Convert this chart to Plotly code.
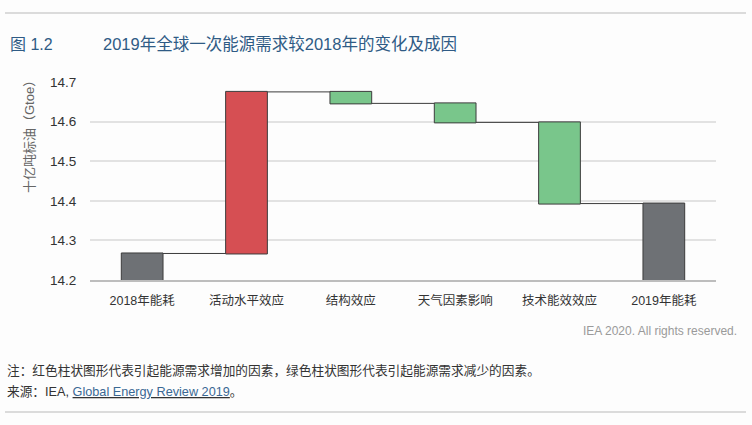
import plotly.graph_objects as go

# data
categories = ["2018年能耗", "活动水平效应", "结构效应", "天气因素影响", "技术能效效应", "2019年能耗"]
measures = ["absolute", "relative", "relative", "relative", "relative", "total"]
values = [14.267, 0.408, -0.029, -0.048, -0.205, 0]
y_ticks = [14.2, 14.3, 14.4, 14.5, 14.6, 14.7]

W, H = 752, 425
L, R, T, B = 90, 716, 82, 280
FONT = "Liberation Sans, Noto Sans CJK SC, sans-serif"


def px(x, y):
    # page pixels -> paper coordinates of the plot area
    return (x - L) / (R - L), (B - y) / (B - T)


fig = go.Figure(
    go.Waterfall(
        x=categories,
        y=values,
        measure=measures,
        base=0,
        increasing=dict(marker=dict(color="#d64f53", line=dict(color="#3c3c3c", width=1))),
        decreasing=dict(marker=dict(color="#79c68b", line=dict(color="#3c3c3c", width=1))),
        totals=dict(marker=dict(color="#6e7175", line=dict(color="#3c3c3c", width=1))),
        connector=dict(line=dict(color="#3c3c3c", width=1)),
        hoverinfo="skip",
    )
)

annotations = []
x0, y0 = px(8, 44)
annotations.append(dict(text="图 1.2", x=x0, y=y0, xanchor="left", yanchor="middle",
                        font=dict(size=16, color="#2f5b85")))
x0, y0 = px(101, 44)
annotations.append(dict(text="2019年全球一次能源需求较2018年的变化及成因", x=x0, y=y0,
                        xanchor="left", yanchor="middle", font=dict(size=16.5, color="#2f5b85")))
x0, y0 = px(29, 134)
annotations.append(dict(text="十亿吨标油（Gtoe）", x=x0, y=y0, textangle=-90,
                        xanchor="center", yanchor="middle", font=dict(size=13, color="#666")))
x0, y0 = px(739, 331)
annotations.append(dict(text="IEA 2020. All rights reserved.", x=x0, y=y0,
                        xanchor="right", yanchor="middle", font=dict(size=12, color="#9a9a9a")))
x0, y0 = px(5, 370)
annotations.append(dict(text="注：红色柱状图形代表引起能源需求增加的因素，绿色柱状图形代表引起能源需求减少的因素。",
                        x=x0, y=y0, xanchor="left", yanchor="middle", font=dict(size=12.7, color="#333")))
x0, y0 = px(5, 392)
annotations.append(dict(text="来源：IEA, <u><span style='color:#3a6894'>Global Energy Review 2019</span></u>。",
                        x=x0, y=y0, xanchor="left", yanchor="middle", font=dict(size=12.7, color="#333")))
for a in annotations:
    a.update(xref="paper", yref="paper", showarrow=False)

shapes = []
for yline in (13, 412):
    xa, ya = px(5, yline)
    xb, _ = px(746, yline)
    shapes.append(dict(type="line", xref="paper", yref="paper", x0=xa, x1=xb, y0=ya, y1=ya,
                       line=dict(color="#cfcfcf", width=1.5)))

fig.update_layout(
    width=W,
    height=H,
    margin=dict(l=L, r=W - R, t=T, b=H - B),
    paper_bgcolor="#fdfdfd",
    plot_bgcolor="#fdfdfd",
    font=dict(family=FONT, color="#333"),
    showlegend=False,
    waterfallgap=0.6,
    annotations=annotations,
    shapes=shapes,
)
fig.update_yaxes(
    range=[14.2, 14.7],
    tickvals=y_ticks,
    ticktext=[f"{v:.1f}" for v in y_ticks],
    showgrid=True,
    gridcolor="#e2e2e2",
    gridwidth=1.5,
    zeroline=False,
    ticks="outside",
    ticklen=10,
    tickcolor="rgba(0,0,0,0)",
    tickfont=dict(size=13.5, color="#333"),
)
fig.update_xaxes(
    showline=True,
    linecolor="#bdbdbd",
    linewidth=1.5,
    ticks="outside",
    ticklen=8,
    tickcolor="rgba(0,0,0,0)",
    tickfont=dict(size=12.5, color="#333"),
)

fig.write_html("out.html", config={"displayModeBar": False},
               post_script="document.body.style.margin='0px';")
